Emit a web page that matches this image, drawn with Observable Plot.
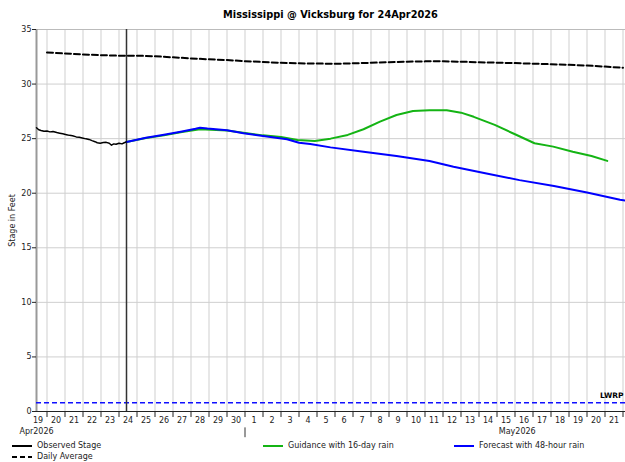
<!DOCTYPE html>
<html><head><meta charset="utf-8">
<script src="https://cdn.jsdelivr.net/npm/d3@7"></script>
<script src="https://cdn.jsdelivr.net/npm/@observablehq/plot@0.6"></script>
<style>
body{margin:0;background:#fff;font-family:"DejaVu Sans",Verdana,sans-serif;}
#wrap{position:relative;width:625px;height:462px;overflow:hidden;background:#fff;}
#title{position:absolute;left:36px;top:8px;width:589px;text-align:center;font-size:9.8px;font-weight:bold;color:#000;line-height:14px;}
#chart{position:absolute;left:0;top:22px;}
.lg{position:absolute;font-size:8px;color:#222;line-height:10px;white-space:nowrap;}
.lg svg{position:absolute;left:0;top:0;}
.lg span{position:absolute;top:0;}
</style></head><body>
<div id="wrap">
  <div id="title">Mississippi @ Vicksburg for 24Apr2026</div>
  <div id="chart"></div>
</div>
<script>
// ---- Data ----
const obsTimes = ["2026-04-19T10:00","2026-04-19T13:00","2026-04-19T16:00","2026-04-19T20:00","2026-04-20T00:00","2026-04-20T04:00","2026-04-20T08:00","2026-04-20T13:00","2026-04-20T17:00","2026-04-20T21:00","2026-04-21T02:00","2026-04-21T06:00","2026-04-21T10:00","2026-04-21T15:00","2026-04-21T19:00","2026-04-21T23:00","2026-04-22T04:00","2026-04-22T08:00","2026-04-22T12:00","2026-04-22T16:00","2026-04-22T19:00","2026-04-22T23:00","2026-04-23T03:00","2026-04-23T07:00","2026-04-23T11:00","2026-04-23T14:00","2026-04-23T17:00","2026-04-23T20:00","2026-04-24T00:00","2026-04-24T04:00","2026-04-24T07:00","2026-04-24T10:00"];
const obsValues = [26.0,25.82,25.75,25.68,25.7,25.62,25.66,25.56,25.5,25.44,25.36,25.3,25.27,25.16,25.12,25.06,24.98,24.93,24.82,24.72,24.62,24.58,24.64,24.66,24.58,24.4,24.52,24.48,24.58,24.52,24.62,24.7];

const fcstTimes = ["2026-04-24T10:00","2026-04-25T12:00","2026-04-26T12:00","2026-04-27T12:00","2026-04-28T06:00","2026-04-28T12:00","2026-04-28T22:00","2026-04-30T00:00","2026-04-30T22:00","2026-05-02T00:00","2026-05-03T08:00","2026-05-04T00:00","2026-05-04T15:00","2026-05-05T18:00","2026-05-07T14:00","2026-05-09T10:00","2026-05-11T06:00","2026-05-12T14:00","2026-05-14T10:00","2026-05-16T06:00","2026-05-18T04:00","2026-05-20T00:00","2026-05-21T20:00","2026-05-22T03:20"];
const fcstValues = [24.7,25.08,25.35,25.65,25.9,26.0,25.92,25.77,25.5,25.25,24.95,24.62,24.5,24.2,23.8,23.42,22.95,22.42,21.8,21.2,20.67,20.06,19.4,19.32];

const guidTimes = ["2026-04-24T10:00","2026-04-25T12:00","2026-04-26T12:00","2026-04-27T12:00","2026-04-28T12:00","2026-04-30T00:00","2026-05-02T00:00","2026-05-03T00:00","2026-05-03T22:00","2026-05-04T21:00","2026-05-05T18:00","2026-05-06T17:00","2026-05-07T14:00","2026-05-08T12:00","2026-05-09T10:00","2026-05-10T08:00","2026-05-11T06:00","2026-05-12T05:00","2026-05-13T00:00","2026-05-13T17:00","2026-05-14T21:00","2026-05-16T00:00","2026-05-17T02:00","2026-05-18T03:00","2026-05-19T05:00","2026-05-20T06:00","2026-05-21T03:00"];
const guidValues = [24.7,25.05,25.3,25.6,25.85,25.75,25.3,25.15,24.88,24.78,25.0,25.34,25.86,26.56,27.17,27.54,27.6,27.6,27.38,27.0,26.26,25.4,24.58,24.27,23.8,23.41,22.96];

const avgDates = ["2026-04-20","2026-04-21","2026-04-22","2026-04-23","2026-04-24","2026-04-25","2026-04-26","2026-04-27","2026-04-28","2026-04-29","2026-04-30","2026-05-01","2026-05-02","2026-05-03","2026-05-04","2026-05-05","2026-05-06","2026-05-07","2026-05-08","2026-05-09","2026-05-10","2026-05-11","2026-05-12","2026-05-13","2026-05-14","2026-05-15","2026-05-16","2026-05-17","2026-05-18","2026-05-19","2026-05-20","2026-05-21","2026-05-22"];
const avgValues = [32.9,32.8,32.72,32.65,32.6,32.6,32.55,32.45,32.35,32.27,32.2,32.1,32.02,31.95,31.9,31.88,31.86,31.9,31.95,32.0,32.05,32.08,32.08,32.05,32.0,31.96,31.92,31.87,31.82,31.76,31.7,31.6,31.5];

const lwrp = 0.8;
const nowTime = "2026-04-24T10:00";
const xStart = "2026-04-19T10:00", xEnd = "2026-05-22T03:20";
const yTicks = [0,5,10,15,20,25,30,35];
const monthLabels = [{t:"2026-04-19T10:00", label:"Apr2026", anchor:"start"},{t:"2026-05-16T03:00", label:"May2026", anchor:"middle"}];
const monthBoundary = "2026-05-01T00:00";
const seriesNames = ["Observed Stage","Daily Average","Guidance with 16-day rain","Forecast with 48-hour rain"];

// ---- Build ----
const P = s => new Date(s.length === 10 ? s + "T00:00Z" : s + "Z");
const obs = obsTimes.map((t,i)=>({t:P(t), v:obsValues[i]}));
const fcst = fcstTimes.map((t,i)=>({t:P(t), v:fcstValues[i]}));
const guid = guidTimes.map((t,i)=>({t:P(t), v:guidValues[i]}));
const avg = avgDates.map((t,i)=>({t:P(t), v:avgValues[i]}));
const dayBounds = d3.utcDay.range(P("2026-04-20"), P("2026-05-23"));
const noons = d3.utcDay.range(P("2026-04-19"), P("2026-05-22")).map(d => d3.utcHour.offset(d, 12));

const font = "DejaVu Sans, Verdana, sans-serif";
const chart = Plot.plot({
  width: 625, height: 418,
  marginTop: 7, marginBottom: 29, marginLeft: 36, marginRight: 0,
  style: {fontFamily: font, fontSize: "8px", color: "#222", background: "#fff"},
  x: {type: "utc", domain: [P(xStart), P(xEnd)]},
  y: {domain: [0, 35]},
  marks: [
    Plot.gridY(yTicks, {stroke: "#cfcfcf", strokeOpacity: 1}),
    Plot.gridX(dayBounds, {stroke: "#cfcfcf", strokeOpacity: 1}),
    Plot.ruleY([35], {stroke: "#bbb"}),
    Plot.ruleX([P(xStart)], {stroke: "#999", strokeWidth: 2}),
    Plot.ruleY([lwrp], {stroke: "#1010ff", strokeWidth: 1.3, strokeDasharray: "5,3"}),
    Plot.text(["LWRP"], {x: P("2026-05-21T09:00"), y: lwrp, dy: -7, textAnchor: "middle", fontWeight: "bold", fontSize: 7.5, fill: "#000"}),
    Plot.ruleX([P(nowTime)], {stroke: "#333", strokeWidth: 1.5}),
    Plot.line(avg, {x: "t", y: "v", stroke: "#000", strokeWidth: 2, strokeDasharray: "6,3"}),
    Plot.line(guid, {x: "t", y: "v", stroke: "#14b414", strokeWidth: 2}),
    Plot.line(fcst, {x: "t", y: "v", stroke: "#0000ff", strokeWidth: 2}),
    Plot.line(obs, {x: "t", y: "v", stroke: "#000", strokeWidth: 1.5}),
    Plot.ruleY([0], {stroke: "#222"}),
    Plot.axisY({ticks: yTicks, tickSize: 4, tickPadding: 1, fontSize: 8, label: "Stage in Feet", labelAnchor: "center", labelArrow: "none", labelOffset: 27}),
    Plot.axisX({ticks: dayBounds, tickSize: 6, tickFormat: () => "", label: null, stroke: "#222"}),
    Plot.axisX({ticks: noons, tickSize: 0, tickPadding: 6, tickFormat: d3.utcFormat("%-d"), fontSize: 8, label: null}),
    Plot.text(monthLabels, {x: d => P(d.t), text: "label", frameAnchor: "bottom", dy: 22, textAnchor: d => d.anchor, fontSize: 8, fill: "#222"}),
    Plot.ruleX([P(monthBoundary)], {y1: -1.5, y2: -2.4, stroke: "#333"})
  ]
});
document.getElementById("chart").appendChild(chart);

// ---- Legend ----
const legendItems = [
  {name: seriesNames[0], x: 12, y: 441, stroke: "#000", dash: null},
  {name: seriesNames[1], x: 12, y: 452, stroke: "#000", dash: "5,3"},
  {name: seriesNames[2], x: 263, y: 441, stroke: "#14b414", dash: null},
  {name: seriesNames[3], x: 454, y: 441, stroke: "#0000ff", dash: null}
];
const wrap = document.getElementById("wrap");
for (const it of legendItems) {
  const d = document.createElement("div");
  d.className = "lg";
  d.style.left = it.x + "px"; d.style.top = it.y + "px";
  d.innerHTML = `<svg width="22" height="10"><line x1="0" x2="20" y1="5" y2="5" stroke="${it.stroke}" stroke-width="2" ${it.dash ? `stroke-dasharray="${it.dash}"` : ""}/></svg><span style="left:25px">${it.name}</span>`;
  wrap.appendChild(d);
}
</script>
</body></html>
